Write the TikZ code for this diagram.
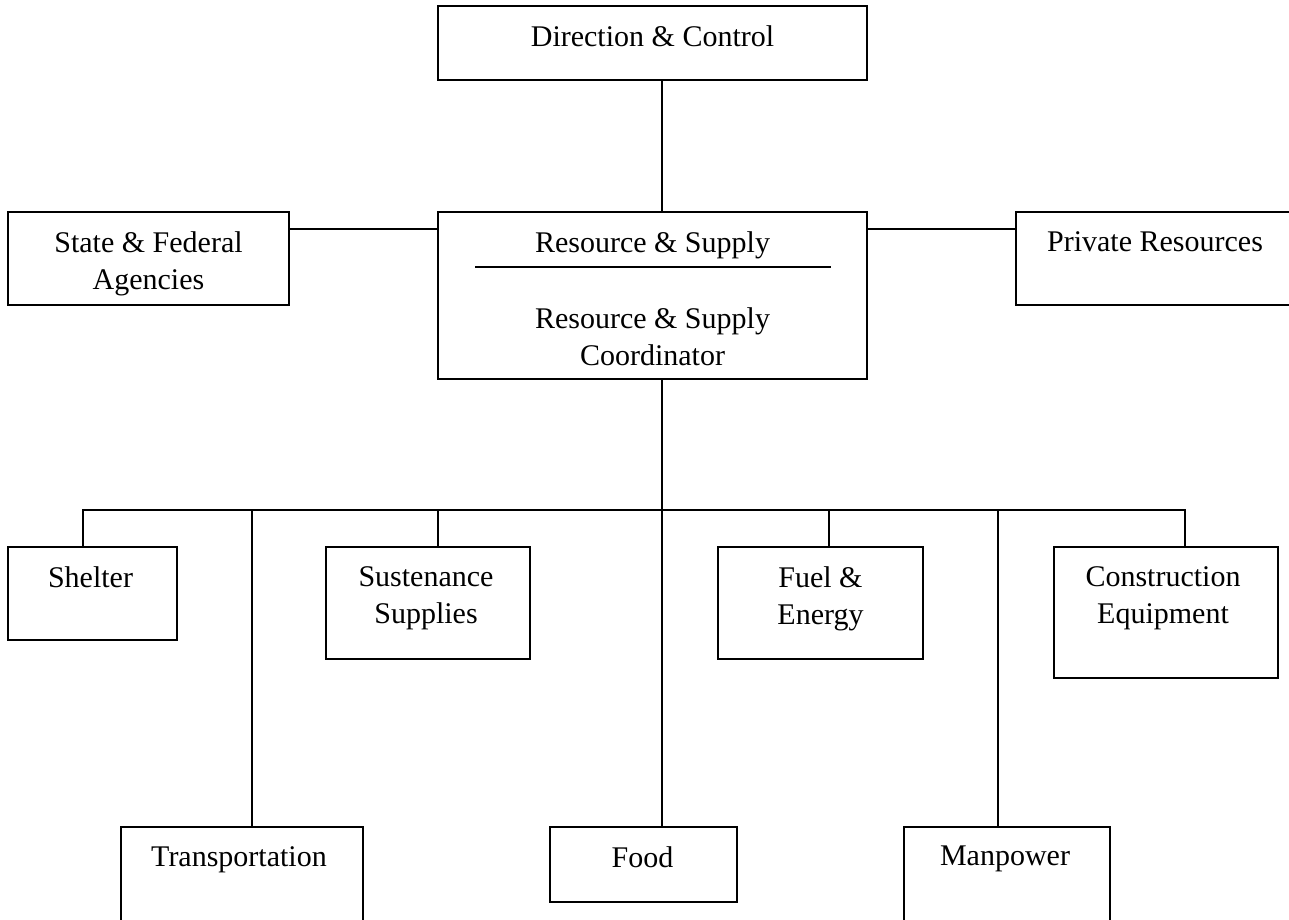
\documentclass[tikz,border=0pt]{standalone}
\usepackage{fontspec}
\setmainfont{Liberation Serif}
\begin{document}
\begin{tikzpicture}[x=1pt,y=-1pt,
  box/.style 2 args={draw, line width=1.8pt, minimum width=#1, minimum height=#2,
    anchor=north west, inner sep=0pt, outer sep=0pt},
  txt/.style={font=\fontsize{30}{37.5}\selectfont, align=center, anchor=north, inner sep=0pt},
  link/.style={line width=1.8pt}]
\useasboundingbox (0,0) rectangle (1289,919);
\fill[white] (0,0) rectangle (1289,919);

% boxes
\node[box={429pt}{74pt}]  (dc) at (438,6)   {};
\node[box={429pt}{167pt}] (rs) at (438,212) {};
\node[box={281pt}{93pt}]  (sf) at (8,212)   {};
\node[box={278pt}{93pt}]  (pr) at (1016,212) {};
\node[box={169pt}{93pt}]  (sh) at (8,547)   {};
\node[box={204pt}{112pt}] (su) at (326,547) {};
\node[box={205pt}{112pt}] (fu) at (718,547) {};
\node[box={224pt}{131pt}] (co) at (1054,547) {};
\node[box={242pt}{133pt}] (tr) at (121,827) {};
\node[box={187pt}{75pt}]  (fo) at (550,827) {};
\node[box={206pt}{133pt}] (mp) at (904,827) {};

% labels
\node[txt] (dc-t) at ([yshift=-19pt]dc.north) {Direction \& Control};
\node[txt] (rs-t) at ([yshift=-19pt]rs.north) {Resource \& Supply};
\node[txt] (rs-c) at ([yshift=-95pt]rs.north) {Resource \& Supply\\Coordinator};
\node[txt] (sf-t) at ([yshift=-19pt]sf.north) {State \& Federal\\Agencies};
\node[txt] (pr-t) at ([yshift=-19pt]pr.north) {Private Resources};
\node[txt] (sh-t) at ([xshift=-2pt,yshift=-19pt]sh.north) {Shelter};
\node[txt] (su-t) at ([xshift=-2pt,yshift=-19pt]su.north) {Sustenance\\Supplies};
\node[txt] (fu-t) at ([yshift=-19pt]fu.north) {Fuel \&\\Energy};
\node[txt] (co-t) at ([xshift=-3pt,yshift=-19pt]co.north) {Construction\\Equipment};
\node[txt] (tr-t) at ([xshift=-3pt,yshift=-19pt]tr.north) {Transportation};
\node[txt] (fo-t) at ([xshift=-1pt,yshift=-19pt]fo.north) {Food};
\node[txt] (mp-t) at ([xshift=-2pt,yshift=-19pt]mp.north) {Manpower};

% rule under the section title
\draw[link] ([xshift=37pt,yshift=-55pt]rs.north west) -- ([xshift=-36pt,yshift=-55pt]rs.north east);

% trunk and side links
\coordinate (hub) at (662,510);
\draw[link] (dc.south -| hub) -- (rs.north -| hub);
\draw[link] (rs.south -| hub) -- (hub);
\draw[link] ([yshift=-17pt]sf.north east) -- ([yshift=-17pt]rs.north west);
\draw[link] ([yshift=-17pt]rs.north east) -- ([yshift=-17pt]pr.north west);

% distribution bus
\coordinate (bl) at (83,510);
\coordinate (bt) at (252,510);
\coordinate (bs) at (438,510);
\coordinate (bf) at (829,510);
\coordinate (bm) at (998,510);
\coordinate (br) at (1185,510);
\draw[link] (sh.north -| bl) -- (bl) -- (br) -- (co.north -| br);
\draw[link] (bt) -- (bt |- tr.north);
\draw[link] (bs) -- (bs |- su.north);
\draw[link] (hub) -- (hub |- fo.north);
\draw[link] (bf) -- (bf |- fu.north);
\draw[link] (bm) -- (bm |- mp.north);
\end{tikzpicture}
\end{document}
